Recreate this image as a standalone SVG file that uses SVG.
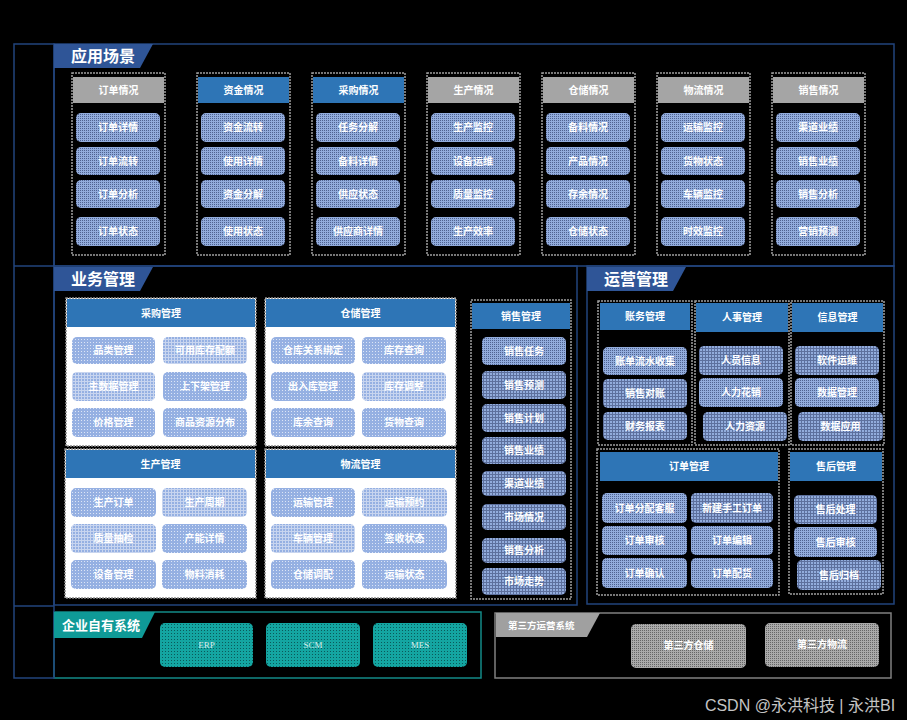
<svg xmlns="http://www.w3.org/2000/svg" width="907" height="720" viewBox="0 0 907 720">
<defs>
<pattern id="pd" width="2" height="2" patternUnits="userSpaceOnUse"><rect width="2" height="2" fill="#92acdc"/><rect width="1" height="1" fill="#4f6290"/></pattern>
<pattern id="pg" width="3" height="3" patternUnits="userSpaceOnUse"><rect width="3" height="3" fill="#92acdc"/><rect width="3" height="1" fill="#5d709d"/><rect width="1" height="3" fill="#5d709d"/></pattern>
<pattern id="pl" width="3" height="3" patternUnits="userSpaceOnUse"><rect width="3" height="3" fill="#95b0e2"/><rect width="1" height="1" fill="#dce5f6"/></pattern>
<pattern id="plg" width="3" height="3" patternUnits="userSpaceOnUse"><rect width="3" height="3" fill="#95b0e2"/><rect width="3" height="1" fill="#c8d5ef"/><rect width="1" height="3" fill="#c8d5ef"/></pattern>
<pattern id="pt" width="3" height="3" patternUnits="userSpaceOnUse"><rect width="3" height="3" fill="#14a5a1"/><rect width="1" height="1" fill="#0a5a5a"/></pattern>
<pattern id="pgr" width="2" height="2" patternUnits="userSpaceOnUse"><rect width="2" height="2" fill="#aaaaaa"/><rect width="1" height="1" fill="#666"/></pattern>
</defs>
<style>
text{font-family:"Liberation Sans","Noto Sans CJK SC",sans-serif;text-anchor:middle;fill:#fff}
.ln{fill:none;stroke:#22447c;stroke-width:1.5}
.cont{fill:none;stroke:#a0a0a0;stroke-width:1.5;stroke-dasharray:2 1}
.wcont{fill:#fff;stroke:#8a8a8a;stroke-width:1.5;stroke-dasharray:2 1}
.hb{fill:#2e75b6}
.hg{fill:#a5a5a5}
.it{fill:url(#pd)}
.itg{fill:url(#pg)}
.itl{fill:url(#pl)}
.itlg{fill:url(#plg)}
.t{font-size:10px;font-weight:bold}
.h{font-size:10px;font-weight:bold}
.tab{fill:#2f5597}
.tt{font-size:16px;font-weight:bold;text-anchor:start}
.sys{fill:url(#pt)}
.st{font-family:"Liberation Serif",serif;font-size:9px;fill:#d8efee}
</style>
<rect width="907" height="720" fill="#000"/>

<g id="frame">
<rect class="ln" x="54" y="44" width="840" height="222"/>
<rect class="ln" x="54" y="266" width="523" height="339"/>
<rect class="ln" x="587" y="266" width="307" height="338"/>
<rect x="54" y="612" width="427" height="66" fill="none" stroke="#138a88" stroke-width="1.5"/>
<rect x="495" y="613" width="396" height="65" fill="none" stroke="#808080" stroke-width="1.5"/>
<rect class="ln" x="14" y="44" width="40" height="634"/>
<line class="ln" x1="14" y1="266" x2="54" y2="266"/>
<line class="ln" x1="14" y1="606" x2="54" y2="606"/>
</g>

<g id="tab-yyc"><polygon class="tab" points="54,44 153,44 140,68 54,68"/><text class="tt" x="71" y="62">应用场景</text></g>
<g id="tab-ywgl"><polygon class="tab" points="54,267 153,267 140,291 54,291"/><text class="tt" x="71" y="285">业务管理</text></g>
<g id="tab-yygl"><polygon class="tab" points="587,267 686,267 673,291 587,291"/><text class="tt" x="604" y="285">运营管理</text></g>
<g id="tab-qy"><polygon points="54,612 155,612 142,638 54,638" fill="#0f9a97"/><text x="62" y="630" style="font-size:13px;font-weight:bold;text-anchor:start">企业自有系统</text></g>
<g id="tab-dsf"><polygon points="496,613 600,613 587,637 496,637" fill="#a0a0a0"/><text x="508" y="629" style="font-size:9.5px;font-weight:bold;text-anchor:start">第三方运营系统</text></g>

<!-- top columns -->
<g id="c1"><rect class="cont" x="72" y="73" width="93" height="182"/><rect class="hg" x="73" y="77" width="91" height="26"/><text class="h" x="118.5" y="93.5">订单情况</text>
<rect class="it" x="76" y="113" width="84" height="29" rx="5"/><text class="t" x="118" y="131">订单详情</text>
<rect class="it" x="76" y="147" width="84" height="28" rx="5"/><text class="t" x="118" y="164.5">订单流转</text>
<rect class="it" x="76" y="180" width="84" height="28" rx="5"/><text class="t" x="118" y="197.5">订单分析</text>
<rect class="it" x="76" y="217" width="84" height="29" rx="5"/><text class="t" x="118" y="235">订单状态</text></g>

<g id="c2"><rect class="cont" x="197" y="73" width="93" height="182"/><rect class="hb" x="198" y="77" width="91" height="26"/><text class="h" x="243.5" y="93.5">资金情况</text>
<rect class="it" x="201" y="113" width="84" height="29" rx="5"/><text class="t" x="243" y="131">资金流转</text>
<rect class="it" x="201" y="147" width="84" height="28" rx="5"/><text class="t" x="243" y="164.5">使用详情</text>
<rect class="it" x="201" y="180" width="84" height="28" rx="5"/><text class="t" x="243" y="197.5">资金分解</text>
<rect class="it" x="201" y="217" width="84" height="29" rx="5"/><text class="t" x="243" y="235">使用状态</text></g>

<g id="c3"><rect class="cont" x="312" y="73" width="93" height="182"/><rect class="hb" x="313" y="77" width="91" height="26"/><text class="h" x="358.5" y="93.5">采购情况</text>
<rect class="it" x="316" y="113" width="84" height="29" rx="5"/><text class="t" x="358" y="131">任务分解</text>
<rect class="it" x="316" y="147" width="84" height="28" rx="5"/><text class="t" x="358" y="164.5">备料详情</text>
<rect class="it" x="316" y="180" width="84" height="28" rx="5"/><text class="t" x="358" y="197.5">供应状态</text>
<rect class="it" x="316" y="217" width="84" height="29" rx="5"/><text class="t" x="358" y="235">供应商详情</text></g>

<g id="c4"><rect class="cont" x="427" y="73" width="93" height="182"/><rect class="hg" x="428" y="77" width="91" height="26"/><text class="h" x="473.5" y="93.5">生产情况</text>
<rect class="it" x="431" y="113" width="84" height="29" rx="5"/><text class="t" x="473" y="131">生产监控</text>
<rect class="it" x="431" y="147" width="84" height="28" rx="5"/><text class="t" x="473" y="164.5">设备运维</text>
<rect class="it" x="431" y="180" width="84" height="28" rx="5"/><text class="t" x="473" y="197.5">质量监控</text>
<rect class="it" x="431" y="217" width="84" height="29" rx="5"/><text class="t" x="473" y="235">生产效率</text></g>

<g id="c5"><rect class="cont" x="542" y="73" width="93" height="182"/><rect class="hg" x="543" y="77" width="91" height="26"/><text class="h" x="588.5" y="93.5">仓储情况</text>
<rect class="it" x="546" y="113" width="84" height="29" rx="5"/><text class="t" x="588" y="131">备料情况</text>
<rect class="it" x="546" y="147" width="84" height="28" rx="5"/><text class="t" x="588" y="164.5">产品情况</text>
<rect class="it" x="546" y="180" width="84" height="28" rx="5"/><text class="t" x="588" y="197.5">存余情况</text>
<rect class="it" x="546" y="217" width="84" height="29" rx="5"/><text class="t" x="588" y="235">仓储状态</text></g>

<g id="c6"><rect class="cont" x="657" y="73" width="93" height="182"/><rect class="hg" x="658" y="77" width="91" height="26"/><text class="h" x="703.5" y="93.5">物流情况</text>
<rect class="it" x="661" y="113" width="84" height="29" rx="5"/><text class="t" x="703" y="131">运输监控</text>
<rect class="it" x="661" y="147" width="84" height="28" rx="5"/><text class="t" x="703" y="164.5">货物状态</text>
<rect class="it" x="661" y="180" width="84" height="28" rx="5"/><text class="t" x="703" y="197.5">车辆监控</text>
<rect class="it" x="661" y="217" width="84" height="29" rx="5"/><text class="t" x="703" y="235">时效监控</text></g>

<g id="c7"><rect class="cont" x="772" y="73" width="93" height="182"/><rect class="hg" x="773" y="77" width="91" height="26"/><text class="h" x="818.5" y="93.5">销售情况</text>
<rect class="it" x="776" y="113" width="84" height="29" rx="5"/><text class="t" x="818" y="131">渠道业绩</text>
<rect class="it" x="776" y="147" width="84" height="28" rx="5"/><text class="t" x="818" y="164.5">销售业绩</text>
<rect class="it" x="776" y="180" width="84" height="28" rx="5"/><text class="t" x="818" y="197.5">销售分析</text>
<rect class="it" x="776" y="217" width="84" height="29" rx="5"/><text class="t" x="818" y="235">营销预测</text></g>

<!-- 业务管理 -->
<g id="cggl"><rect class="wcont" x="66" y="298" width="190" height="148"/><rect class="hb" x="67" y="299" width="188" height="28"/><text class="h" x="161" y="317">采购管理</text>
<rect class="itl" x="72" y="337" width="83" height="27" rx="5"/><text class="t" x="113.5" y="354">品类管理</text>
<rect class="itlg" x="163" y="337" width="84" height="27" rx="5"/><text class="t" x="205" y="354">可用库存配额</text>
<rect class="itlg" x="72" y="372" width="83" height="29" rx="5"/><text class="t" x="113.5" y="390">主数据管理</text>
<rect class="itl" x="163" y="372" width="84" height="29" rx="5"/><text class="t" x="205" y="390">上下架管理</text>
<rect class="itl" x="72" y="408" width="83" height="29" rx="5"/><text class="t" x="113.5" y="426">价格管理</text>
<rect class="itl" x="163" y="408" width="84" height="29" rx="5"/><text class="t" x="205" y="426">商品资源分布</text></g>

<g id="ccgl"><rect class="wcont" x="265" y="298" width="191" height="148"/><rect class="hb" x="266" y="299" width="189" height="28"/><text class="h" x="360.5" y="317">仓储管理</text>
<rect class="itl" x="271" y="337" width="84" height="27" rx="5"/><text class="t" x="313" y="354">仓库关系绑定</text>
<rect class="itl" x="362" y="337" width="84" height="27" rx="5"/><text class="t" x="404" y="354">库存查询</text>
<rect class="itl" x="271" y="372" width="84" height="29" rx="5"/><text class="t" x="313" y="390">出入库管理</text>
<rect class="itlg" x="362" y="372" width="84" height="29" rx="5"/><text class="t" x="404" y="390">库存调整</text>
<rect class="itl" x="271" y="408" width="84" height="29" rx="5"/><text class="t" x="313" y="426">库余查询</text>
<rect class="itl" x="362" y="408" width="84" height="29" rx="5"/><text class="t" x="404" y="426">货物查询</text></g>

<g id="scgl"><rect class="wcont" x="65" y="449" width="191" height="149"/><rect class="hb" x="66" y="450" width="189" height="28"/><text class="h" x="160.5" y="468">生产管理</text>
<rect class="itl" x="71" y="488" width="85" height="29" rx="5"/><text class="t" x="113.5" y="506">生产订单</text>
<rect class="itlg" x="162" y="488" width="85" height="29" rx="5"/><text class="t" x="204.5" y="506">生产周期</text>
<rect class="itlg" x="71" y="524" width="85" height="29" rx="5"/><text class="t" x="113.5" y="542">质量抽检</text>
<rect class="itl" x="162" y="524" width="85" height="29" rx="5"/><text class="t" x="204.5" y="542">产能详情</text>
<rect class="itl" x="71" y="560" width="85" height="29" rx="5"/><text class="t" x="113.5" y="578">设备管理</text>
<rect class="itl" x="162" y="560" width="85" height="29" rx="5"/><text class="t" x="204.5" y="578">物料消耗</text></g>

<g id="wlgl"><rect class="wcont" x="265" y="449" width="191" height="149"/><rect class="hb" x="266" y="450" width="189" height="28"/><text class="h" x="360.5" y="468">物流管理</text>
<rect class="itl" x="271" y="488" width="84" height="29" rx="5"/><text class="t" x="313" y="506">运输管理</text>
<rect class="itlg" x="362" y="488" width="85" height="29" rx="5"/><text class="t" x="404.5" y="506">运输预约</text>
<rect class="itlg" x="271" y="524" width="84" height="29" rx="5"/><text class="t" x="313" y="542">车辆管理</text>
<rect class="itl" x="362" y="524" width="85" height="29" rx="5"/><text class="t" x="404.5" y="542">签收状态</text>
<rect class="itl" x="271" y="560" width="84" height="29" rx="5"/><text class="t" x="313" y="578">仓储调配</text>
<rect class="itl" x="362" y="560" width="85" height="29" rx="5"/><text class="t" x="404.5" y="578">运输状态</text></g>

<g id="xsgl"><rect class="cont" x="471" y="300" width="100" height="299"/><rect class="hb" x="472" y="303" width="98" height="26"/><text class="h" x="521" y="320">销售管理</text>
<rect class="it" x="482" y="337" width="84" height="28" rx="5"/><text class="t" x="524" y="354.5">销售任务</text>
<rect class="itg" x="482" y="371" width="84" height="28" rx="5"/><text class="t" x="524" y="388.5">销售预测</text>
<rect class="itg" x="482" y="404" width="84" height="28" rx="5"/><text class="t" x="524" y="421.5">销售计划</text>
<rect class="itg" x="482" y="437" width="84" height="27" rx="5"/><text class="t" x="524" y="454">销售业绩</text>
<rect class="itg" x="482" y="471" width="84" height="25" rx="5"/><text class="t" x="524" y="487">渠道业绩</text>
<rect class="itg" x="482" y="504" width="84" height="26" rx="5"/><text class="t" x="524" y="520.5">市场情况</text>
<rect class="itg" x="482" y="538" width="84" height="25" rx="5"/><text class="t" x="524" y="554">销售分析</text>
<rect class="itg" x="482" y="568" width="84" height="27" rx="5"/><text class="t" x="524" y="585">市场走势</text></g>

<!-- 运营管理 -->
<g id="zwgl"><rect class="cont" x="598" y="301" width="94" height="144"/><rect class="hb" x="600" y="303" width="90" height="27" /><text class="h" x="645" y="320">账务管理</text>
<rect class="it" x="603" y="347" width="84" height="28" rx="5"/><text class="t" x="645" y="364.5">账单流水收集</text>
<rect class="itg" x="603" y="379" width="84" height="29" rx="5"/><text class="t" x="645" y="397">销售对账</text>
<rect class="itg" x="603" y="412" width="84" height="28" rx="5"/><text class="t" x="645" y="429.5">财务报表</text></g>

<g id="rsgl"><rect class="cont" x="695" y="301" width="94" height="144"/><rect class="hb" x="696" y="303" width="92" height="29"/><text class="h" x="742" y="321">人事管理</text>
<rect class="itg" x="699" y="346" width="84" height="29" rx="5"/><text class="t" x="741" y="364">人员信息</text>
<rect class="it" x="699" y="378" width="84" height="29" rx="5"/><text class="t" x="741" y="396">人力花销</text>
<rect class="itg" x="703" y="412" width="84" height="29" rx="5"/><text class="t" x="745" y="430">人力资源</text></g>

<g id="xxgl"><rect class="cont" x="791" y="301" width="93" height="144"/><rect class="hb" x="792" y="303" width="91" height="29"/><text class="h" x="837.5" y="321">信息管理</text>
<rect class="itg" x="795" y="346" width="84" height="29" rx="5"/><text class="t" x="837" y="364">软件运维</text>
<rect class="it" x="795" y="378" width="84" height="29" rx="5"/><text class="t" x="837" y="396">数据管理</text>
<rect class="itg" x="798" y="412" width="85" height="29" rx="5"/><text class="t" x="840.5" y="430">数据应用</text></g>

<g id="ddgl"><rect class="cont" x="597" y="449" width="182" height="146"/><rect class="hb" x="600" y="452" width="178" height="29"/><text class="h" x="689" y="470">订单管理</text>
<rect class="it" x="602" y="493" width="85" height="30" rx="5"/><text class="t" x="644.5" y="511.5">订单分配客服</text>
<rect class="itg" x="691" y="493" width="82" height="30" rx="5"/><text class="t" x="732" y="511.5">新建手工订单</text>
<rect class="it" x="602" y="526" width="85" height="29" rx="5"/><text class="t" x="644.5" y="544">订单审核</text>
<rect class="it" x="691" y="526" width="82" height="29" rx="5"/><text class="t" x="732" y="544">订单编辑</text>
<rect class="it" x="602" y="558" width="85" height="30" rx="5"/><text class="t" x="644.5" y="576.5">订单确认</text>
<rect class="it" x="691" y="558" width="82" height="30" rx="5"/><text class="t" x="732" y="576.5">订单配货</text></g>

<g id="shgl"><rect class="cont" x="789" y="449" width="94" height="145"/><rect class="hb" x="790" y="452" width="92" height="29"/><text class="h" x="836" y="470">售后管理</text>
<rect class="itg" x="794" y="495" width="83" height="29" rx="5"/><text class="t" x="835.5" y="513">售后处理</text>
<rect class="it" x="794" y="527" width="83" height="30" rx="5"/><text class="t" x="835.5" y="545.5">售后审核</text>
<rect class="itg" x="797" y="560" width="84" height="30" rx="5"/><text class="t" x="839" y="578.5">售后归档</text></g>

<!-- bottom -->
<g id="erp"><rect class="sys" x="160" y="623" width="93" height="44" rx="5"/><text class="st" x="206.5" y="648">ERP</text></g>
<g id="scm"><rect class="sys" x="266" y="623" width="94" height="44" rx="5"/><text class="st" x="313" y="648">SCM</text></g>
<g id="mes"><rect class="sys" x="373" y="623" width="94" height="44" rx="5"/><text class="st" x="420" y="648">MES</text></g>
<g id="dsfcc"><rect x="631" y="624" width="115" height="44" rx="5" fill="url(#pgr)"/><text class="t" x="688.5" y="649">第三方仓储</text></g>
<g id="dsfwl"><rect x="765" y="623" width="114" height="44" rx="5" fill="url(#pgr)"/><text class="t" x="822" y="648">第三方物流</text></g>

<text x="800" y="711" style="font-size:16px;fill:#c4c4c4">CSDN @永洪科技 | 永洪BI</text>
</svg>
